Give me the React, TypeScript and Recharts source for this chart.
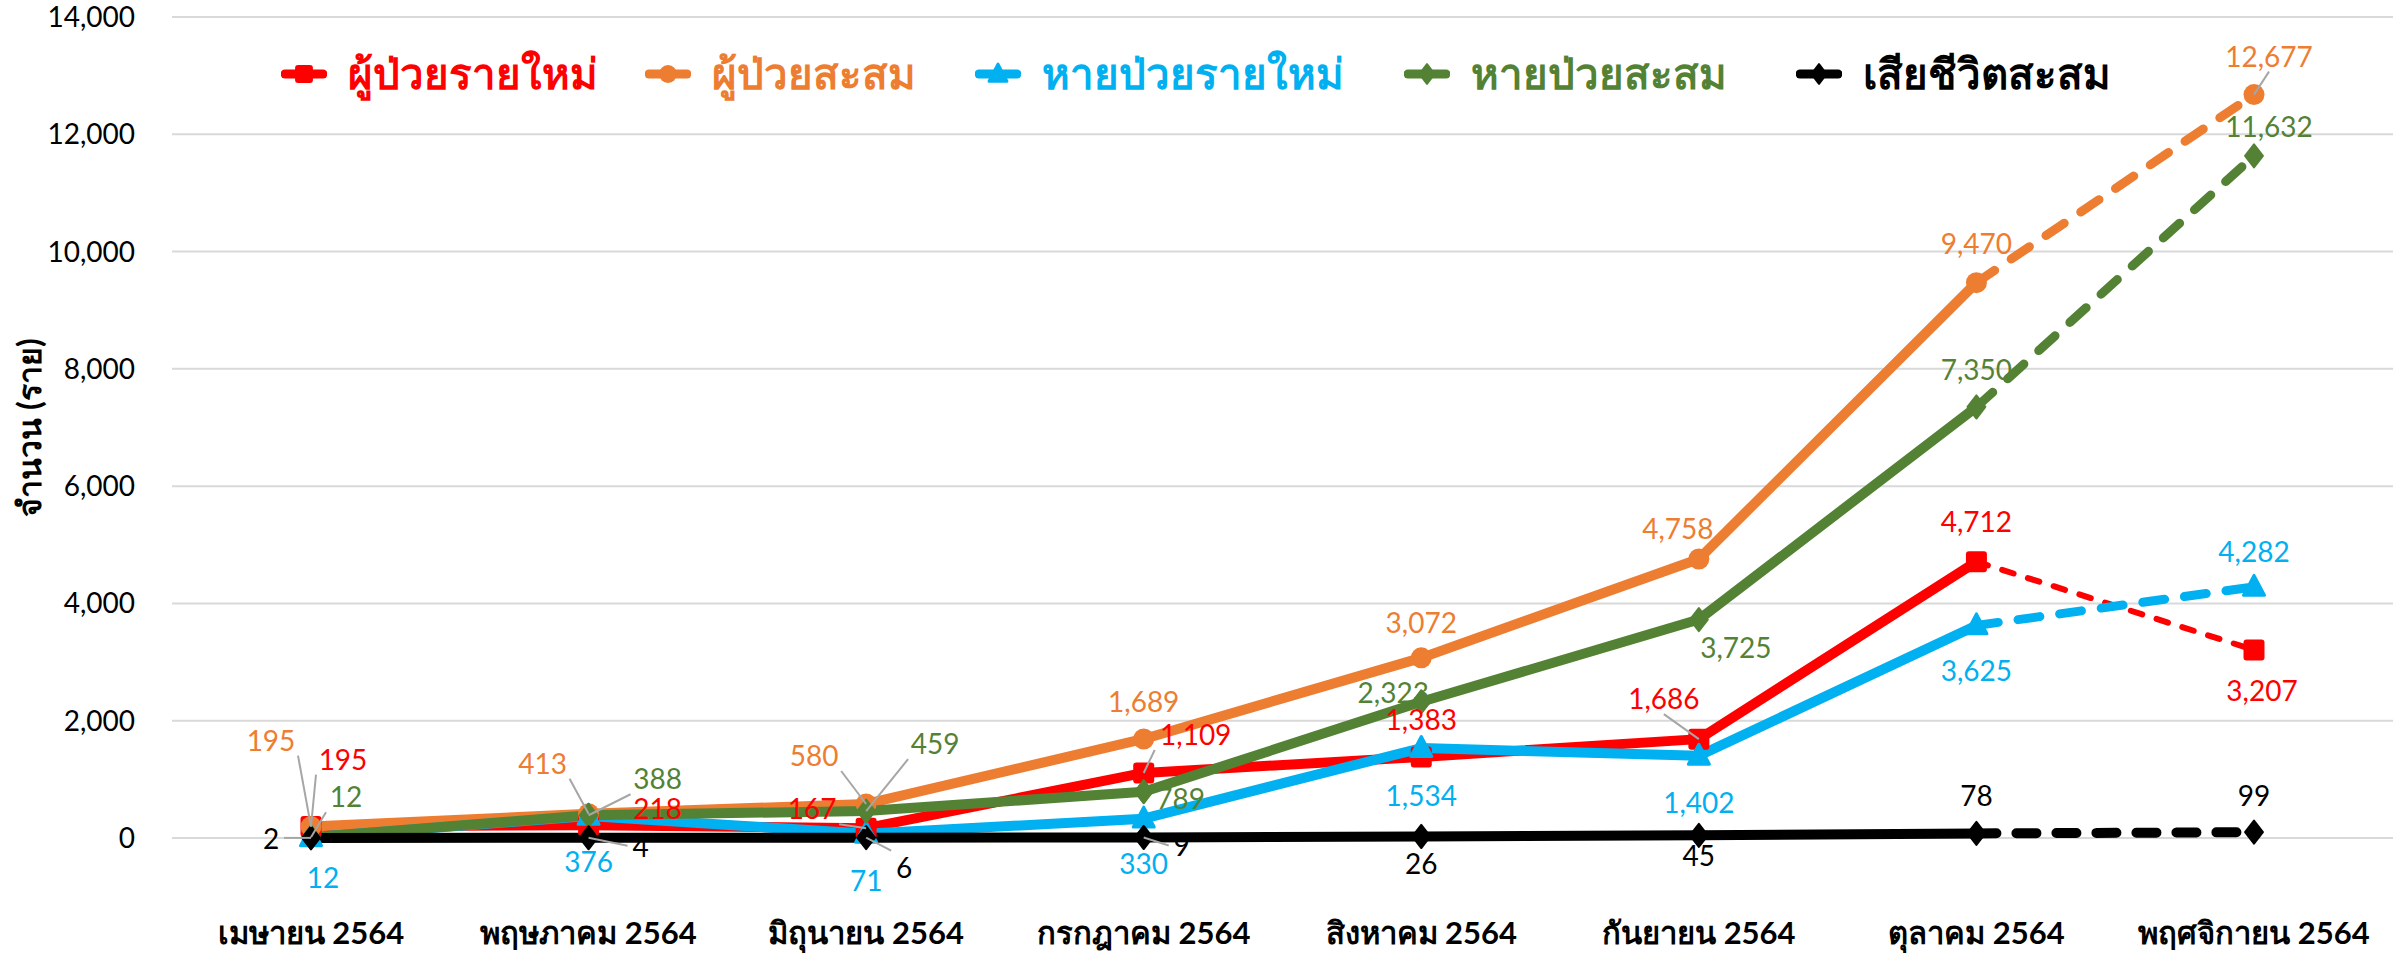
import React from "react";
import { LineChart, Line, XAxis, YAxis, CartesianGrid, Legend } from "recharts";

const months = [
  "เมษายน 2564",
  "พฤษภาคม 2564",
  "มิถุนายน 2564",
  "กรกฎาคม 2564",
  "สิงหาคม 2564",
  "กันยายน 2564",
  "ตุลาคม 2564",
  "พฤศจิกายน 2564",
];

const newCases = [195, 218, 167, 1109, 1383, 1686, 4712, 3207];
const totalCases = [195, 413, 580, 1689, 3072, 4758, 9470, 12677];
const newRecovered = [12, 376, 71, 330, 1534, 1402, 3625, 4282];
const totalRecovered = [12, 388, 459, 789, 2323, 3725, 7350, 11632];
const totalDeaths = [2, 4, 6, 9, 26, 45, 78, 99];

const yTicks = [0, 2000, 4000, 6000, 8000, 10000, 12000, 14000];

// last month is a projection, drawn dashed
const LAST = months.length - 1;

const FONT = "Lato, 'Noto Sans', sans-serif";

type Marker = "square" | "circle" | "triangle" | "diamond";
type LabelPos = [number, number, number]; // dx, dy, leader line?

type Series = {
  key: string;
  name: string;
  color: string;
  values: number[];
  marker: Marker;
  width: number;
  dashWidth: number;
  dash: string;
  labels: LabelPos[];
};

const series: Series[] = [
  {
    key: "newCases",
    name: "ผู้ป่วยรายใหม่",
    color: "#FF0000",
    values: newCases,
    marker: "square",
    width: 10,
    dashWidth: 6,
    dash: "12 15",
    labels: [[32, -68, 1], [69, -17, 0], [-54, -20, 1], [52, -39, 1], [0, -38, 0], [-35, -41, 1], [0, -41, 0], [8, 40, 0]],
  },
  {
    key: "totalCases",
    name: "ผู้ป่วยสะสม",
    color: "#ED7D31",
    values: totalCases,
    marker: "circle",
    width: 10,
    dashWidth: 9,
    dash: "22 20",
    labels: [[-40, -87, 1], [-46, -51, 1], [-52, -49, 1], [0, -38, 0], [0, -36, 0], [-21, -31, 0], [0, -40, 0], [15, -39, 1]],
  },
  {
    key: "newRecovered",
    name: "หายป่วยรายใหม่",
    color: "#00B0F0",
    values: newRecovered,
    marker: "triangle",
    width: 10,
    dashWidth: 9,
    dash: "22 20",
    labels: [[12, 40, 0], [0, 45, 0], [0, 46, 0], [0, 44, 0], [0, 47, 0], [0, 46, 0], [0, 45, 0], [0, -36, 0]],
  },
  {
    key: "totalRecovered",
    name: "หายป่วยสะสม",
    color: "#548235",
    values: totalRecovered,
    marker: "diamond",
    width: 10,
    dashWidth: 9,
    dash: "22 20",
    labels: [[35, -41, 1], [69, -37, 1], [69, -68, 1], [37, 6, 0], [-28, -10, 0], [37, 27, 0], [0, -38, 0], [15, -30, 0]],
  },
  {
    key: "totalDeaths",
    name: "เสียชีวิตสะสม",
    color: "#000000",
    values: totalDeaths,
    marker: "diamond",
    width: 10,
    dashWidth: 10,
    dash: "20 20",
    labels: [[-40, 0, 1], [52, 8, 1], [38, 29, 1], [38, 8, 1], [0, 27, 0], [0, 20, 0], [0, -38, 0], [0, -37, 0]],
  },
];

const legendLeft = [281, 645, 975, 1404, 1796];

const data = months.map((month, i) => {
  const row: Record<string, string | number | null> = { month };
  series.forEach((s) => {
    row[s.key] = i < LAST ? s.values[i] : null;
    row[s.key + "Dash"] = i >= LAST - 1 ? s.values[i] : null;
  });
  return row;
});

function MarkerShape({ type, cx, cy, color, size = 1 }: { type: Marker; cx: number; cy: number; color: string; size?: number }) {
  const r = 10.5 * size;
  if (type === "square")
    return <rect x={cx - r} y={cy - r} width={r * 2} height={r * 2} rx={3} fill={color} />;
  if (type === "circle") return <circle cx={cx} cy={cy} r={r} fill={color} />;
  if (type === "triangle")
    return (
      <polygon
        points={`${cx},${cy - r * 1.1} ${cx + r},${cy + r * 0.8} ${cx - r},${cy + r * 0.8}`}
        fill={color}
        stroke={color}
        strokeWidth={3}
        strokeLinejoin="round"
      />
    );
  return (
    <polygon
      points={`${cx},${cy - r * 1.1} ${cx + r * 0.85},${cy} ${cx},${cy + r * 1.1} ${cx - r * 0.85},${cy}`}
      fill={color}
      stroke={color}
      strokeWidth={2}
      strokeLinejoin="round"
    />
  );
}

function makeDot(s: Series, dashed: boolean) {
  return (p: any) => {
    const { cx, cy, index } = p;
    const skip = dashed ? index !== LAST : index >= LAST;
    if (cx == null || cy == null || skip) return <g key={`${s.key}-d-${index}-${dashed}`} />;
    return (
      <g key={`${s.key}-d-${index}-${dashed}`}>
        <MarkerShape type={s.marker} cx={cx} cy={cy} color={s.color} />
      </g>
    );
  };
}

function makeLabel(s: Series, dashed: boolean) {
  return (p: any) => {
    const { x, y, index, value } = p;
    const skip = dashed ? index !== LAST : index >= LAST;
    if (value == null || x == null || y == null || skip) return <g key={`${s.key}-l-${index}-${dashed}`} />;
    const [dx, dy, leader] = s.labels[index];
    const text = Number(value).toLocaleString("en-US");
    const lx = x + dx;
    const ly = y + dy;
    const hw = text.length * 7 + 6;
    const ex = Math.abs(dx) > hw ? lx - Math.sign(dx) * hw : lx;
    const ey = Math.abs(dy) > 16 ? ly - Math.sign(dy) * 16 : ly;
    return (
      <g key={`${s.key}-l-${index}-${dashed}`}>
        {leader ? <line x1={x} y1={y} x2={ex} y2={ey} stroke="#A6A6A6" strokeWidth={2} /> : null}
        <text
          x={lx}
          y={ly}
          textAnchor="middle"
          dominantBaseline="central"
          fill={s.color}
          fontSize={28}
          fontFamily={FONT}
        >
          {text}
        </text>
      </g>
    );
  };
}

function LegendContent() {
  return (
    <div style={{ position: "relative", height: 50 }}>
      {series.map((s, i) => (
        <div
          key={s.key}
          style={{
            position: "absolute",
            left: legendLeft[i],
            top: 0,
            height: 50,
            display: "flex",
            alignItems: "center",
            gap: 21,
            whiteSpace: "nowrap",
          }}
        >
          <svg width={46} height={26}>
            <line x1={4} y1={13} x2={42} y2={13} stroke={s.color} strokeWidth={9} strokeLinecap="round" />
            <MarkerShape type={s.marker} cx={23} cy={13} color={s.color} size={0.85} />
          </svg>
          <span style={{ color: s.color, fontSize: 42, fontWeight: 700, fontFamily: FONT }}>{s.name}</span>
        </div>
      ))}
    </div>
  );
}

export default function App() {
  return (
    <div style={{ position: "absolute", left: 0, top: 0, width: 2407, height: 958, background: "#fff" }}>
      <LineChart width={2407} height={958} data={data} margin={{ top: 17, right: 14, bottom: 10, left: 92 }}>
        <CartesianGrid vertical={false} stroke="#D9D9D9" strokeWidth={2} />
        <XAxis
          dataKey="month"
          axisLine={false}
          tickLine={false}
          tickSize={0}
          tickMargin={84}
          height={110}
          interval={0}
          padding={{ left: 139, right: 139 }}
          tick={{ fontSize: 31, fontWeight: 700, fill: "#000", fontFamily: FONT }}
        />
        <YAxis
          domain={[0, 14000]}
          ticks={yTicks}
          axisLine={false}
          tickLine={false}
          tickSize={0}
          tickMargin={37}
          width={80}
          tickFormatter={(v: number) => v.toLocaleString("en-US")}
          tick={{ fontSize: 28, fill: "#000", fontFamily: FONT }}
          label={(p: any) => {
            const vb = p.viewBox || {};
            const cy = (vb.y ?? 17) + (vb.height ?? 821) / 2;
            return (
              <text
                x={28}
                y={cy}
                transform={`rotate(-90 28 ${cy})`}
                textAnchor="middle"
                dominantBaseline="central"
                fontSize={32}
                fontWeight={700}
                fontFamily={FONT}
                fill="#000"
              >
                จำนวน (ราย)
              </text>
            );
          }}
        />
        <Legend
          layout="horizontal"
          verticalAlign="middle"
          align="center"
          content={() => <LegendContent />}
          wrapperStyle={{ top: 49, left: 0, width: 2407 }}
        />
        {series.map((s) => (
          <Line
            key={s.key}
            dataKey={s.key}
            name={s.name}
            stroke={s.color}
            strokeWidth={s.width}
            strokeLinejoin="round"
            type="linear"
            dot={makeDot(s, false)}
            activeDot={false}
            label={makeLabel(s, false)}
            isAnimationActive={false}
            legendType="none"
          />
        ))}
        {series.map((s) => (
          <Line
            key={s.key + "Dash"}
            dataKey={s.key + "Dash"}
            name={s.name}
            stroke={s.color}
            strokeWidth={s.dashWidth}
            strokeDasharray={s.dash}
            strokeLinecap="round"
            type="linear"
            dot={makeDot(s, true)}
            activeDot={false}
            label={makeLabel(s, true)}
            isAnimationActive={false}
            legendType="none"
          />
        ))}
      </LineChart>
    </div>
  );
}
